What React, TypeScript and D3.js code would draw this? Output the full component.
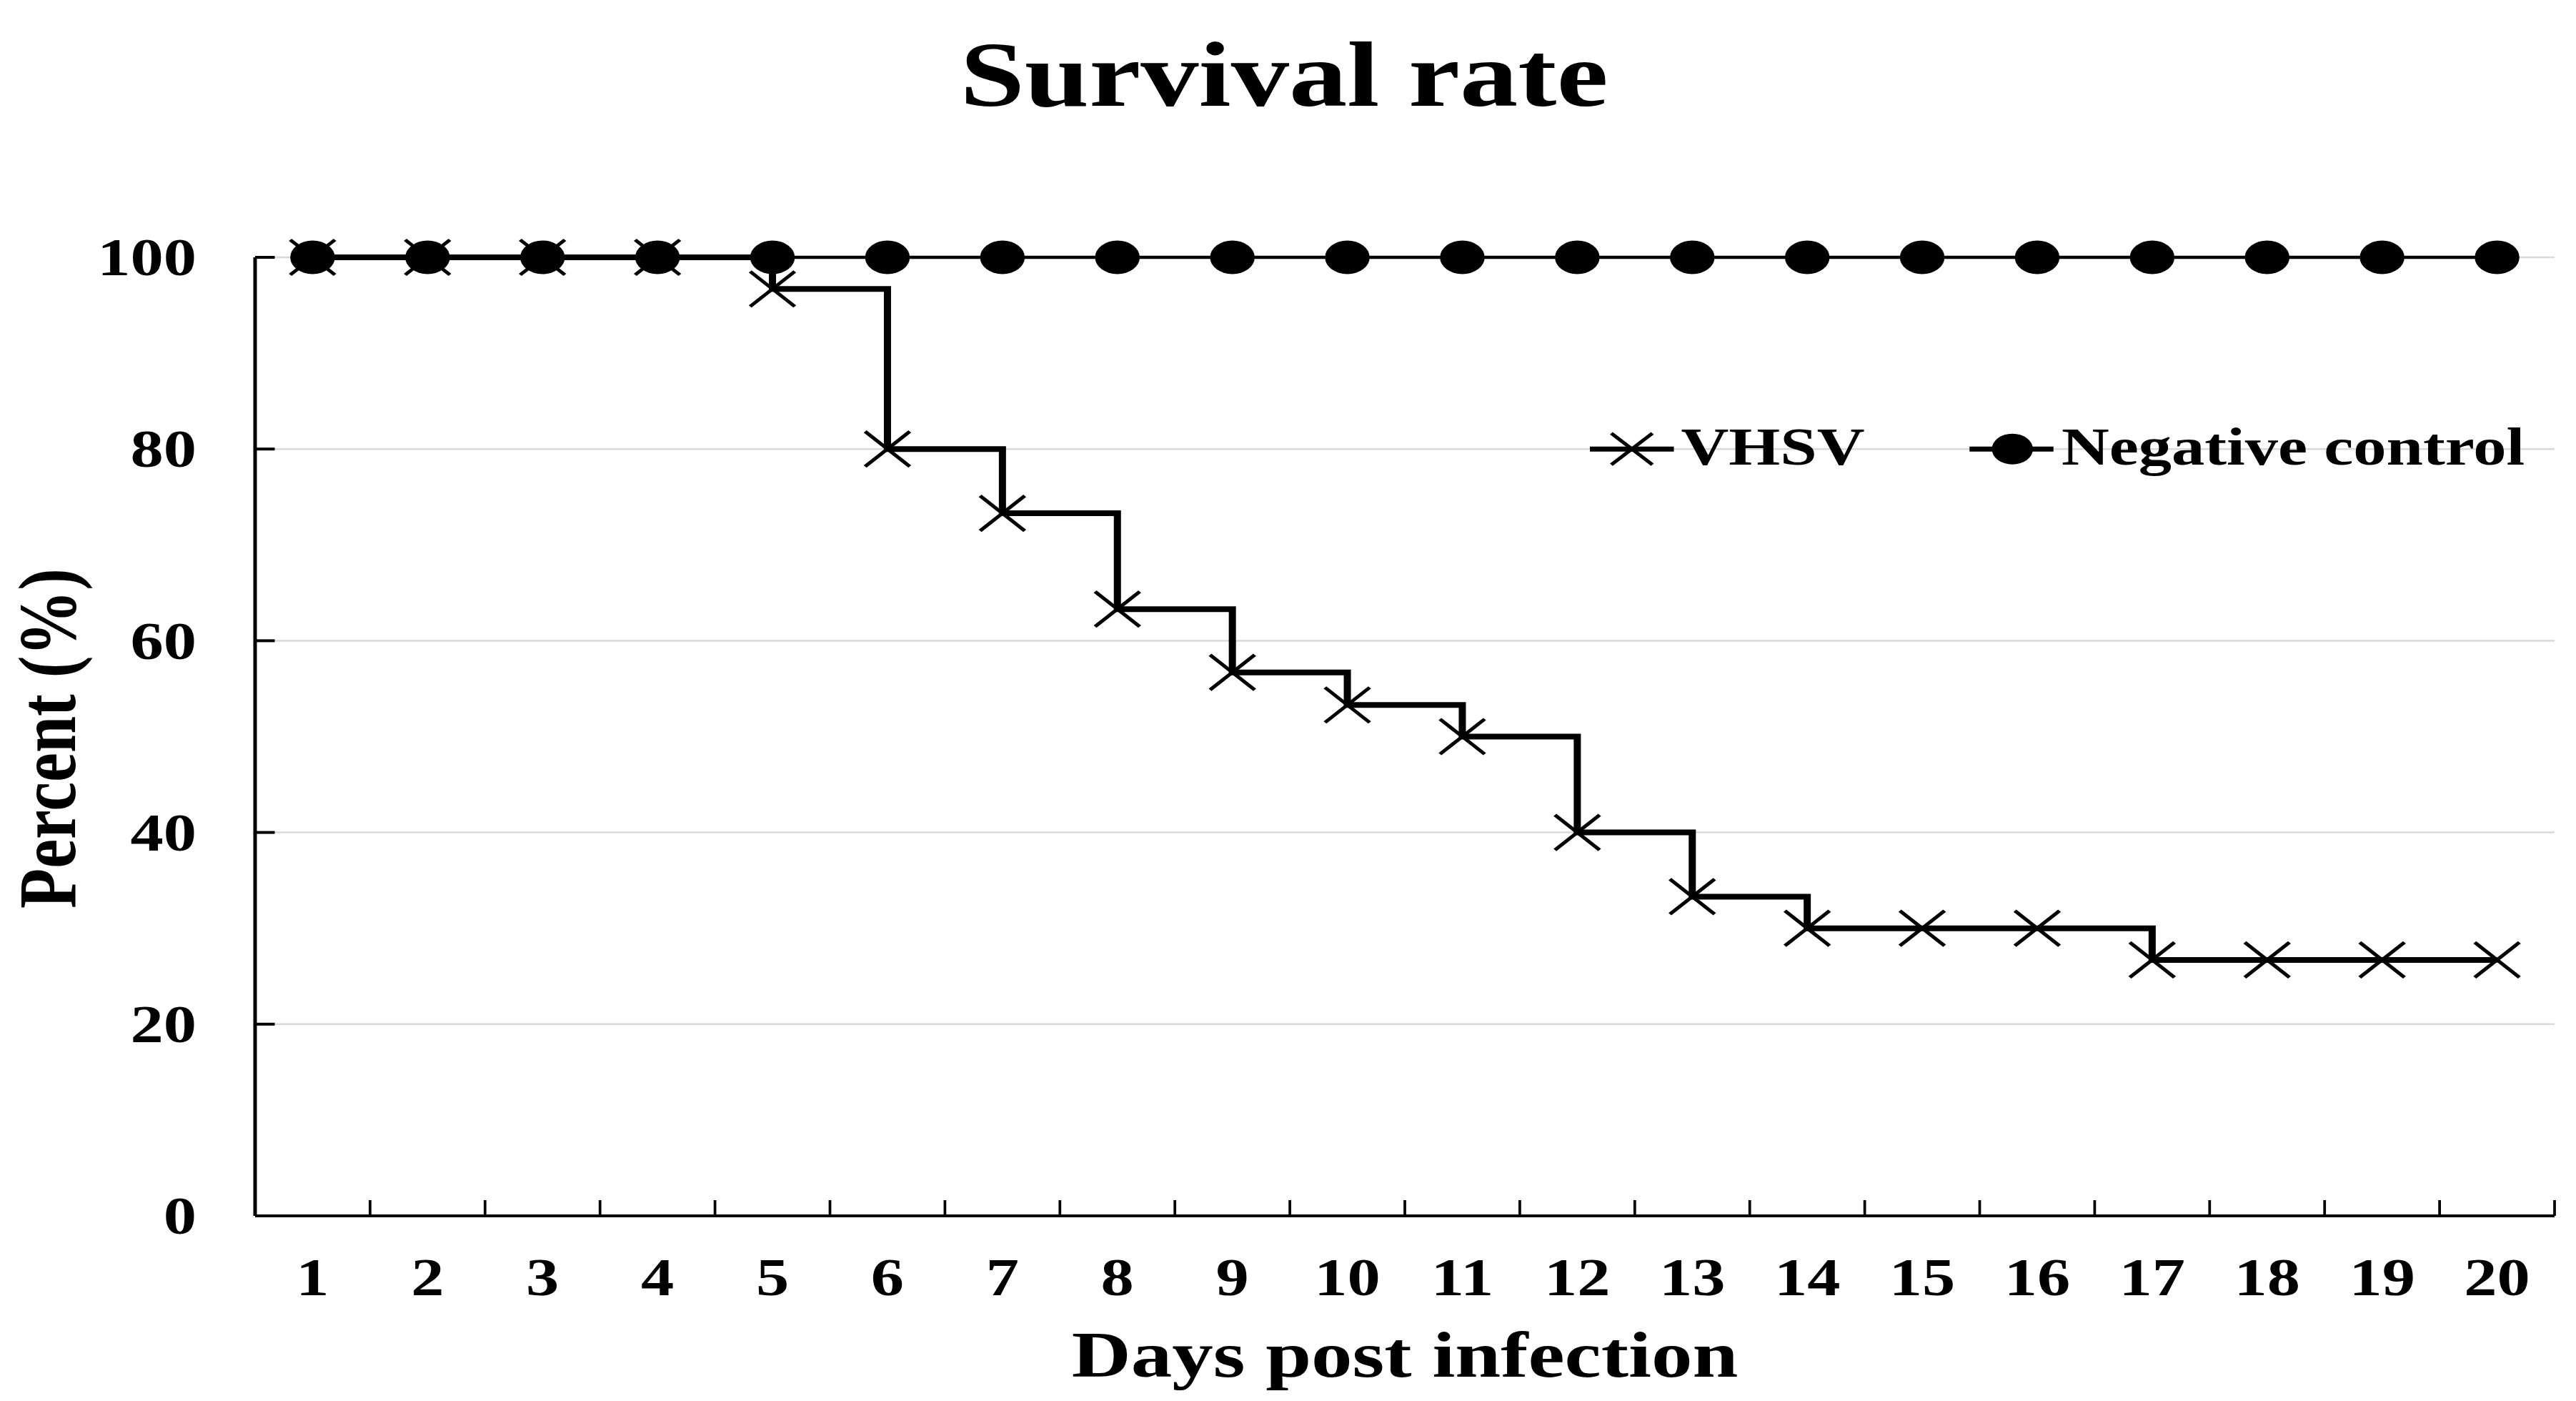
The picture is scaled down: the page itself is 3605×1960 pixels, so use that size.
import React, { useEffect, useRef } from 'react';
import * as d3 from 'd3';

// days post infection (x categories)
const days = ['1', '2', '3', '4', '5', '6', '7', '8', '9', '10', '11', '12', '13', '14', '15', '16', '17', '18', '19', '20'];

// survival (%)
const vhsv = [100, 100, 100, 100, 96.7, 80, 73.3, 63.3, 56.7, 53.3, 50, 40, 33.3, 30, 30, 30, 26.7, 26.7, 26.7, 26.7];
const negativeControl = [100, 100, 100, 100, 100, 100, 100, 100, 100, 100, 100, 100, 100, 100, 100, 100, 100, 100, 100, 100];

const yTicks = [0, 20, 40, 60, 80, 100];

const seriesNames = ['VHSV', 'Negative control'];

export default function App() {
  const svgRef = useRef<SVGSVGElement>(null);

  useEffect(() => {
    if (!svgRef.current) return;
    const svg = d3.select(svgRef.current);
    svg.selectAll('*').remove();

    // the original figure is stretched sideways, so we draw in a narrower
    // coordinate system and let the viewBox stretch it
    const font = '"Liberation Serif", "Times New Roman", serif';
    const left = 285.6;
    const right = 2860;
    const top = 360;
    const bottom = 1701;

    const x = d3.scaleBand<string>().domain(days).range([left, right]);
    const y = d3.scaleLinear().domain([0, 100]).range([bottom, top]);
    const cx = (d: string) => (x(d) as number) + x.bandwidth() / 2;

    svg.append('rect').attr('width', 2884).attr('height', 1960).attr('fill', '#fff');

    // gridlines
    svg.append('g')
      .selectAll('line')
      .data(yTicks.filter(t => t > 0))
      .join('line')
      .attr('x1', left)
      .attr('x2', right)
      .attr('y1', d => y(d))
      .attr('y2', d => y(d))
      .attr('stroke', '#d9d9d9')
      .attr('stroke-width', 2.5);

    // y axis, ticks pointing inward
    const yAxis = svg.append('g');
    yAxis.append('line')
      .attr('x1', left).attr('x2', left)
      .attr('y1', y(100)).attr('y2', y(0))
      .attr('stroke', '#000').attr('stroke-width', 4);
    yAxis.selectAll('line.tick')
      .data(yTicks)
      .join('line')
      .attr('class', 'tick')
      .attr('x1', left).attr('x2', left + 22)
      .attr('y1', d => y(d)).attr('y2', d => y(d))
      .attr('stroke', '#000').attr('stroke-width', 4);
    yAxis.selectAll('text')
      .data(yTicks)
      .join('text')
      .attr('x', 220)
      .attr('y', d => y(d))
      .attr('dy', '0.34em')
      .attr('text-anchor', 'end')
      .attr('font-family', font)
      .attr('font-weight', 'bold')
      .attr('font-size', 74)
      .text(d => String(d));

    // x axis, ticks between categories pointing up
    const xAxis = svg.append('g');
    xAxis.append('line')
      .attr('x1', left).attr('x2', right)
      .attr('y1', bottom).attr('y2', bottom)
      .attr('stroke', '#000').attr('stroke-width', 4);
    xAxis.selectAll('line.tick')
      .data(days)
      .join('line')
      .attr('class', 'tick')
      .attr('x1', d => (x(d) as number) + x.step())
      .attr('x2', d => (x(d) as number) + x.step())
      .attr('y1', bottom).attr('y2', bottom - 22)
      .attr('stroke', '#000').attr('stroke-width', 3);
    xAxis.selectAll('text')
      .data(days)
      .join('text')
      .attr('x', d => cx(d))
      .attr('y', 1812)
      .attr('text-anchor', 'middle')
      .attr('font-family', font)
      .attr('font-weight', 'bold')
      .attr('font-size', 74)
      .text(d => d);

    const xMark = (g: d3.Selection<any, any, any, any>, px: number, py: number, rx: number, ry: number) => {
      g.append('path')
        .attr('d', `M${px - rx},${py - ry}L${px + rx},${py + ry}M${px - rx},${py + ry}L${px + rx},${py - ry}`)
        .attr('stroke', '#000')
        .attr('stroke-width', 4.5)
        .attr('fill', 'none');
    };

    // VHSV: step line with x markers
    const vData = days.map((d, i) => [cx(d), y(vhsv[i])] as [number, number]);
    svg.append('path')
      .attr('d', d3.line().curve(d3.curveStepAfter)(vData))
      .attr('fill', 'none')
      .attr('stroke', '#000')
      .attr('stroke-width', 8);
    const vMarks = svg.append('g');
    vData.forEach(([px, py]) => xMark(vMarks, px, py, 25, 24.5));

    // negative control: straight line with filled circles
    const nData = days.map((d, i) => [cx(d), y(negativeControl[i])] as [number, number]);
    svg.append('path')
      .attr('d', d3.line()(nData))
      .attr('fill', 'none')
      .attr('stroke', '#000')
      .attr('stroke-width', 4.5);
    svg.append('g')
      .selectAll('ellipse')
      .data(nData)
      .join('ellipse')
      .attr('cx', d => d[0])
      .attr('cy', d => d[1])
      .attr('rx', 25)
      .attr('ry', 23.5)
      .attr('fill', '#000');

    // legend
    const ly = y(80);
    const legend = svg.append('g');
    legend.append('line')
      .attr('x1', 1780).attr('x2', 1874).attr('y1', ly).attr('y2', ly)
      .attr('stroke', '#000').attr('stroke-width', 7);
    xMark(legend, 1827, ly, 23, 22);
    legend.append('text')
      .attr('x', 1882).attr('y', 650)
      .attr('font-family', font).attr('font-weight', 'bold').attr('font-size', 74)
      .text(seriesNames[0]);
    legend.append('line')
      .attr('x1', 2205).attr('x2', 2299).attr('y1', ly).attr('y2', ly)
      .attr('stroke', '#000').attr('stroke-width', 7);
    legend.append('ellipse')
      .attr('cx', 2253).attr('cy', ly).attr('rx', 23).attr('ry', 21.5).attr('fill', '#000');
    legend.append('text')
      .attr('x', 2308).attr('y', 650)
      .attr('font-family', font).attr('font-weight', 'bold').attr('font-size', 74)
      .text(seriesNames[1]);

    // titles
    svg.append('text')
      .attr('x', 1437.6).attr('y', 148)
      .attr('text-anchor', 'middle')
      .attr('font-family', font).attr('font-weight', 'bold').attr('font-size', 130)
      .text('Survival rate');

    svg.append('text')
      .attr('x', (left + right) / 2).attr('y', 1926)
      .attr('text-anchor', 'middle')
      .attr('font-family', font).attr('font-weight', 'bold').attr('font-size', 92)
      .text('Days post infection');

    svg.append('text')
      .attr('transform', 'translate(84,1033) rotate(-90)')
      .attr('text-anchor', 'middle')
      .attr('font-family', font).attr('font-weight', 'bold').attr('font-size', 92)
      .text('Percent (%)');
  }, []);

  return (
    <svg
      ref={svgRef}
      width={3605}
      height={1960}
      viewBox="0 0 2884 1960"
      preserveAspectRatio="none"
      style={{ position: 'absolute', left: 0, top: 0, display: 'block' }}
    />
  );
}
